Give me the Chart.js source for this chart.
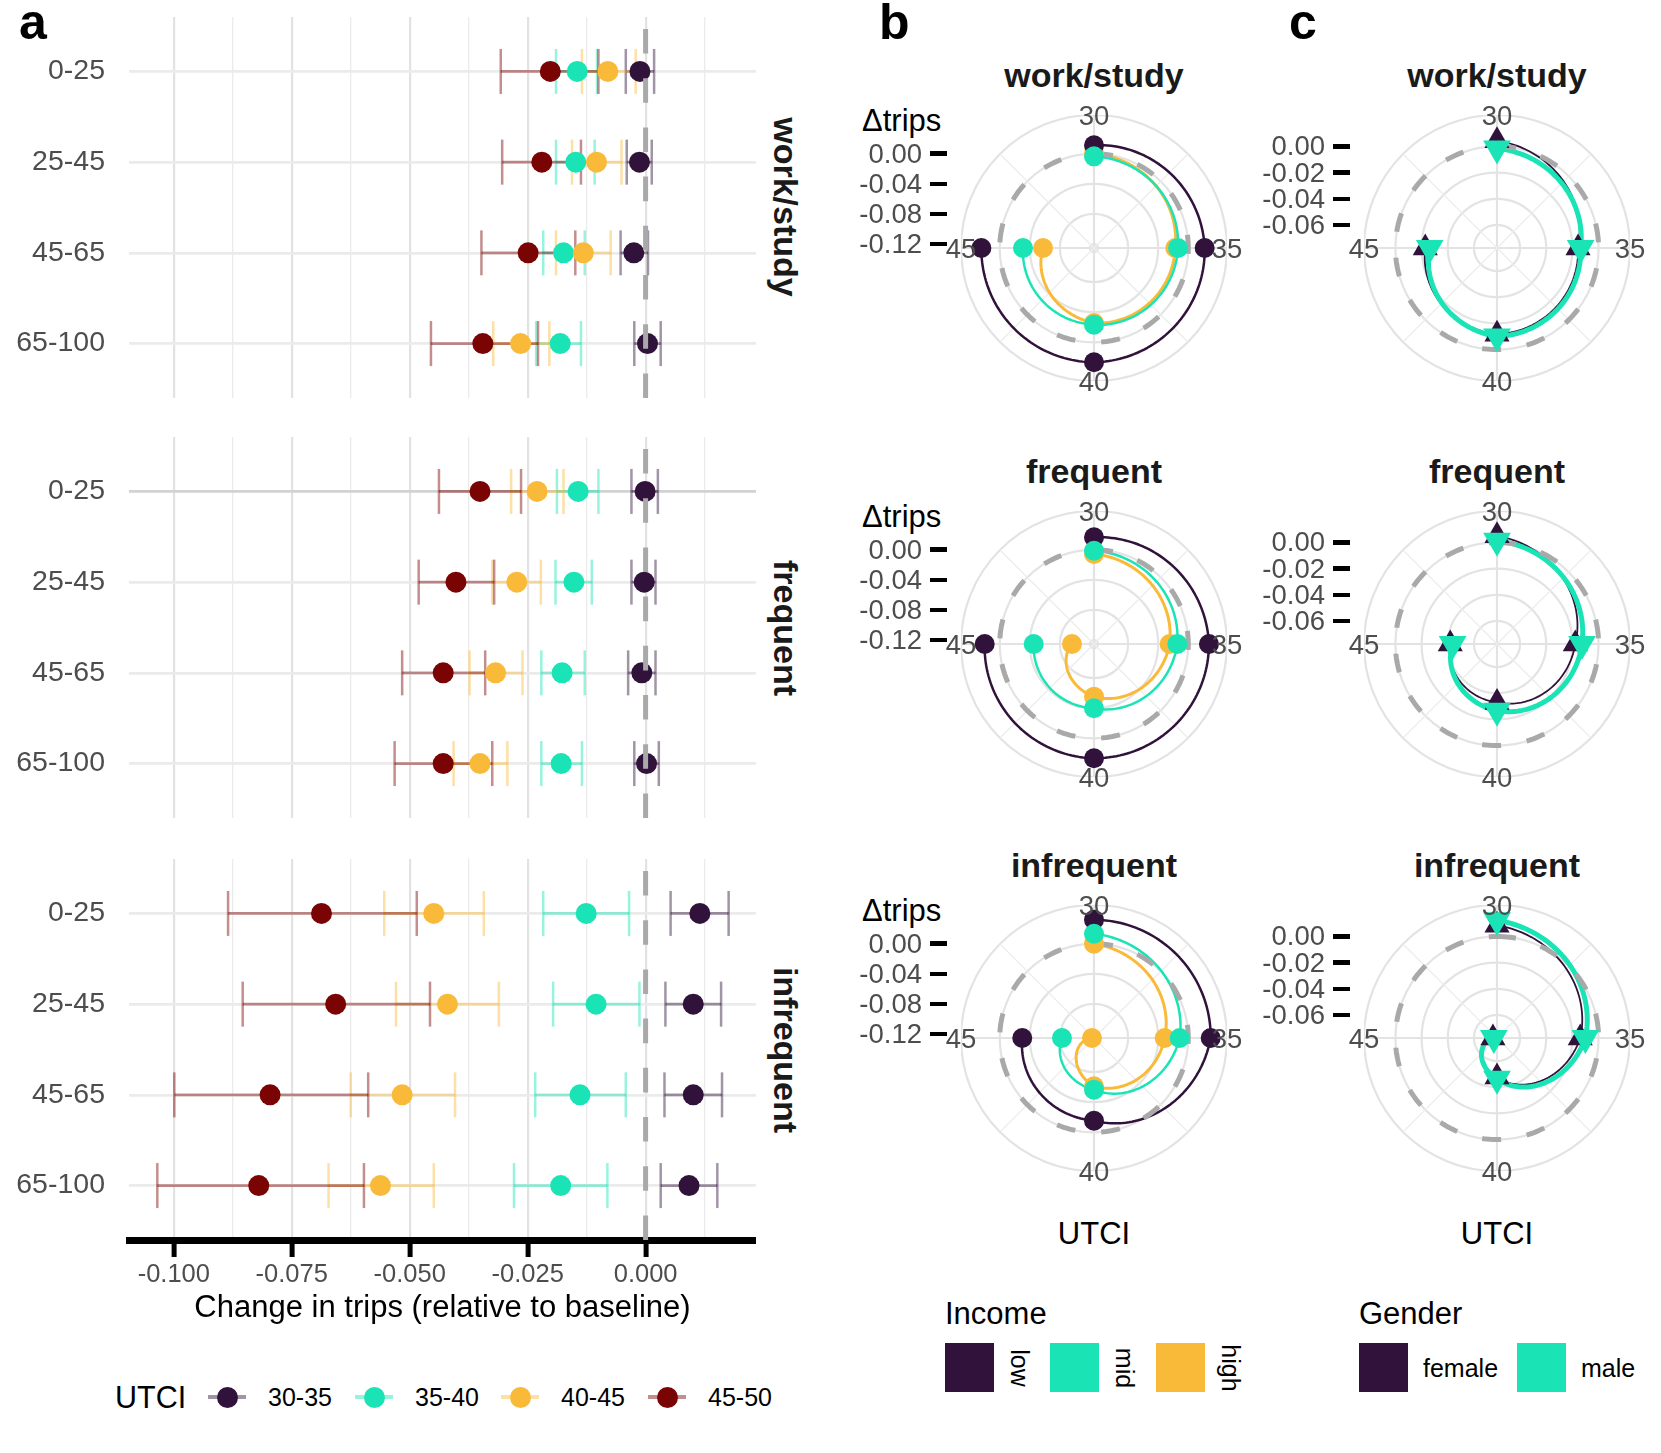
<!DOCTYPE html>
<html>
<head>
<meta charset="utf-8">
<title>Change in trips by UTCI</title>
<script src="https://cdn.jsdelivr.net/npm/chart.js@4.4.1/dist/chart.umd.min.js"></script>
<style>
  body { margin: 0; background: #fff; }
  #fig { position: relative; width: 1661px; height: 1453px; overflow: hidden;
         font-family: "Liberation Sans", Arial, Helvetica, sans-serif; }
  #fig canvas { position: absolute; z-index: 1; }
  .txt { position: absolute; white-space: nowrap; line-height: 1; z-index: 2; }
  .box { position: absolute; z-index: 2; }
</style>
</head>
<body>
<div id="fig"></div>
<script>
// ---------- panel a data : rows are age groups, one array per UTCI bin ----------
const ageGroups = ['0-25', '25-45', '45-65', '65-100'];
const utciBins = ['30-35', '35-40', '40-45', '45-50'];
const utciColors = ['#30123b', '#1ae4b6', '#faba39', '#7a0403'];
const xMajorTicks = [-0.1, -0.075, -0.05, -0.025, 0];
const xMinorTicks = [-0.0875, -0.0625, -0.0375, -0.0125, 0.0125];

const workEst = [[-0.0012, -0.0013, -0.0025, 0.0004], [-0.0145, -0.0148, -0.0174, -0.0181],
                 [-0.0080, -0.0104, -0.0132, -0.0265], [-0.0202, -0.0220, -0.0249, -0.0345]];
const workLo  = [[-0.0042, -0.0040, -0.0053, -0.0024], [-0.0190, -0.0190, -0.0217, -0.0232],
                 [-0.0135, -0.0156, -0.0190, -0.0323], [-0.0307, -0.0304, -0.0348, -0.0455]];
const workHi  = [[0.0018, 0.0013, 0.0005, 0.0032], [-0.0103, -0.0108, -0.0129, -0.0137],
                 [-0.0021, -0.0051, -0.0074, -0.0204], [-0.0100, -0.0137, -0.0149, -0.0228]];

const freqEst = [[-0.0001, -0.0003, -0.0008, 0.0002], [-0.0143, -0.0152, -0.0177, -0.0179],
                 [-0.0230, -0.0273, -0.0318, -0.0351], [-0.0351, -0.0402, -0.0429, -0.0429]];
const freqLo  = [[-0.0030, -0.0030, -0.0037, -0.0024], [-0.0188, -0.0191, -0.0221, -0.0221],
                 [-0.0285, -0.0325, -0.0373, -0.0407], [-0.0438, -0.0481, -0.0516, -0.0532]];
const freqHi  = [[0.0026, 0.0021, 0.0021, 0.0028], [-0.0100, -0.0114, -0.0129, -0.0135],
                 [-0.0174, -0.0222, -0.0261, -0.0293], [-0.0264, -0.0321, -0.0340, -0.0325]];

const infreqEst = [[0.0115, 0.0101, 0.0101, 0.0092], [-0.0126, -0.0105, -0.0139, -0.0180],
                   [-0.0449, -0.0420, -0.0516, -0.0562], [-0.0687, -0.0657, -0.0796, -0.0820]];
const infreqLo  = [[0.0053, 0.0042, 0.0040, 0.0032], [-0.0217, -0.0196, -0.0234, -0.0279],
                   [-0.0554, -0.0529, -0.0625, -0.0672], [-0.0885, -0.0854, -0.0999, -0.1035]];
const infreqHi  = [[0.0176, 0.0160, 0.0162, 0.0152], [-0.0035, -0.0013, -0.0042, -0.0081],
                   [-0.0343, -0.0311, -0.0404, -0.0449], [-0.0485, -0.0457, -0.0588, -0.0597]];

// ---------- panels b and c : delta trips at UTCI 30, 35, 40, 45 ----------
const utciAngles = ['30', '35', '40', '45'];
const incomeLevels = ['low', 'mid', 'high'];
const incomeColors = ['#30123b', '#1ae4b6', '#faba39'];
const incomeTicks = [-0.12, -0.08, -0.04, 0];

const workLow = [0.0112, 0.0218, 0.0266, 0.0244];
const workMid = [-0.0035, -0.0137, -0.0234, -0.0310];
const workHigh = [0.0000, -0.0173, -0.0257, -0.0576];
const freqLow = [0.0165, 0.0275, 0.0266, 0.0200];
const freqMid = [-0.0013, -0.0146, -0.0399, -0.0452];
const freqHigh = [-0.0057, -0.0248, -0.0554, -0.0961];
const infreqLow = [0.0319, 0.0298, -0.0154, -0.0300];
const infreqMid = [0.0133, -0.0114, -0.0567, -0.0828];
const infreqHigh = [0.0000, -0.0314, -0.0611, -0.1227];

const genders = ['female', 'male'];
const genderColors = ['#30123b', '#1ae4b6'];
const genderTicks = [-0.06, -0.04, -0.02, 0];

const workFemale = [0.0044, -0.0157, -0.0118, -0.0228];
const workMale = [-0.0015, -0.0137, -0.0100, -0.0262];
const freqFemale = [0.0050, -0.0178, -0.0330, -0.0419];
const freqMale = [0.0013, -0.0127, -0.0266, -0.0437];
const infreqFemale = [0.0085, -0.0140, -0.0478, -0.0745];
const infreqMale = [0.0123, -0.0101, -0.0465, -0.0752];

// ---------- helpers ----------
const fig = document.getElementById('fig');
Chart.defaults.font.family = '"Liberation Sans", Arial, Helvetica, sans-serif';

function rgba(hex, a) {
    const n = parseInt(hex.slice(1), 16);
    return 'rgba(' + (n >> 16) + ',' + ((n >> 8) & 255) + ',' + (n & 255) + ',' + a + ')';
}

function addCanvas(left, top, w, h) {
    const c = document.createElement('canvas');
    c.width = w; c.height = h;
    c.style.left = left + 'px'; c.style.top = top + 'px';
    c.style.width = w + 'px'; c.style.height = h + 'px';
    fig.appendChild(c);
    return c;
}

function addText(str, x, y, o) {
    o = o || {};
    const d = document.createElement('div');
    d.className = 'txt';
    d.textContent = str;
    d.style.fontSize = (o.size || 25) + 'px';
    d.style.color = o.color || '#000';
    if (o.bold) d.style.fontWeight = 'bold';
    if (o.vertical) d.style.writingMode = 'vertical-rl';
    const anchor = o.anchor || 'center';
    if (anchor === 'center') {
        d.style.left = x + 'px';
        d.style.transform = 'translate(-50%,-50%)';
    } else if (anchor === 'left') {
        d.style.left = x + 'px';
        d.style.transform = 'translateY(-50%)';
    } else {
        d.style.right = (1661 - x) + 'px';
        d.style.transform = 'translateY(-50%)';
    }
    d.style.top = y + 'px';
    fig.appendChild(d);
    return d;
}

function addBox(x, y, w, h, color, round) {
    const d = document.createElement('div');
    d.className = 'box';
    d.style.left = x + 'px'; d.style.top = y + 'px';
    d.style.width = w + 'px'; d.style.height = h + 'px';
    d.style.background = color;
    if (round) d.style.borderRadius = '50%';
    fig.appendChild(d);
}

const isMajor = v => xMajorTicks.some(m => Math.abs(m - v) < 1e-9);

// ---------- panel a : one chart per trip-purpose facet ----------
function facetChart(top, est, lo, hi, showAxis, firstRowColor) {
    const height = showAxis ? 468 : 381;
    const canvas = addCanvas(0, top, 756, height);
    const datasets = [{
        type: 'line',
        data: [{x: 0, y: 3.6}, {x: 0, y: -0.6}],
        borderColor: '#a9a9a9', borderWidth: 5, borderDash: [24.6, 24.6],
        pointRadius: 0, order: 0
    }];
    utciBins.forEach((bin, g) => {
        datasets.push({
            type: 'scatter', label: bin,
            data: est[g].map((v, r) => ({x: v, y: r})),
            pointRadius: 10.5, pointBackgroundColor: utciColors[g], pointBorderWidth: 0,
            order: 4 - g
        });
        const bars = [];
        lo[g].forEach((l, r) => {
            bars.push({x: l, y: r}, {x: hi[g][r], y: r}, {x: null, y: null});
        });
        datasets.push({
            type: 'line', data: bars, spanGaps: false,
            borderColor: rgba(utciColors[g], 0.45), borderWidth: 2.7,
            pointStyle: 'line', pointRotation: 90, pointRadius: 22.5,
            pointBorderColor: rgba(utciColors[g], 0.45), pointBorderWidth: 2.5,
            order: 14 - g
        });
    });

    new Chart(canvas, {
        type: 'scatter',
        data: {datasets: datasets},
        options: {
            responsive: false, animation: false, events: [],
            layout: {padding: 0, autoPadding: false},
            plugins: {legend: {display: false}, tooltip: {enabled: false}},
            scales: {
                x: {
                    type: 'linear', min: -0.1095, max: 0.0234,
                    afterBuildTicks: s => { s.ticks = xMajorTicks.concat(xMinorTicks).sort((a, b) => a - b).map(v => ({value: v})); },
                    afterFit: s => { s.height = showAxis ? 87 : 0; s.paddingLeft = 0; s.paddingRight = 0; },
                    grid: {
                        color: c => isMajor(c.tick.value) ? '#e2e2e2' : '#ebebeb',
                        lineWidth: c => isMajor(c.tick.value) ? 2.2 : 1.3,
                        drawTicks: showAxis, tickLength: 17, tickWidth: 5,
                        tickColor: c => isMajor(c.tick.value) ? '#000' : 'rgba(0,0,0,0)'
                    },
                    border: {display: showAxis, color: '#000', width: 7},
                    ticks: {
                        display: showAxis, autoSkip: false, maxRotation: 0, padding: 3,
                        color: '#4d4d4d', font: {size: 25.5},
                        callback: v => isMajor(v) ? v.toFixed(3) : ''
                    },
                    title: {
                        display: showAxis, text: 'Change in trips (relative to baseline)',
                        color: '#000', font: {size: 31}, padding: 0
                    }
                },
                y: {
                    type: 'linear', reverse: true, min: -0.6, max: 3.6,
                    afterBuildTicks: s => { s.ticks = ageGroups.map((a, i) => ({value: i})); },
                    afterFit: s => { s.width = 129; s.paddingTop = 0; s.paddingBottom = 0; },
                    grid: {
                        color: c => (c.index === 0 && firstRowColor) ? firstRowColor : '#ebebeb',
                        lineWidth: 2.7, drawTicks: false
                    },
                    border: {display: false},
                    ticks: {
                        color: '#4d4d4d', font: {size: 28.5}, padding: 24,
                        callback: v => ageGroups[v]
                    }
                }
            }
        }
    });
}

facetChart(16.5, workEst, workLo, workHi, false, null);
facetChart(437, freqEst, freqLo, freqHi, false, '#d2d2d2');
facetChart(859, infreqEst, infreqLo, infreqHi, true, null);

['work/study', 'frequent', 'infrequent'].forEach((name, i) => {
    addText(name, 786, [207, 627.5, 1049.5][i], {size: 34, bold: true, color: '#1a1a1a', vertical: true});
});

// legend of panel a
addText('UTCI', 115, 1397, {size: 30.5, anchor: 'left'});
[227, 374, 520, 667].forEach((cx, g) => {
    addBox(cx - 19, 1395, 38, 4, rgba(utciColors[g], 0.45));
    addBox(cx - 10.5, 1386.5, 21, 21, utciColors[g], true);
    addText(utciBins[g], cx + 41, 1397, {size: 25, anchor: 'left'});
});

// ---------- panels b and c : polar charts ----------
const minorSpokes = {
    id: 'minorSpokes',
    beforeDatasetsDraw(chart) {
        const s = chart.scales.r;
        const ctx = chart.ctx;
        ctx.save();
        ctx.strokeStyle = '#ececec';
        ctx.lineWidth = 1.2;
        for (let i = 0; i < chart.data.labels.length; i++) {
            const p = s.getPointPosition(i + 0.5, s.drawingArea);
            ctx.beginPath();
            ctx.moveTo(s.xCenter, s.yCenter);
            ctx.lineTo(p.x, p.y);
            ctx.stroke();
        }
        ctx.restore();
    }
};

// lines in polar coordinates: angle and radius change together between
// neighbouring categories, both mapped through the radial scale
const polarPaths = {
    id: 'polarPaths',
    beforeDatasetDraw(chart, args) {
        const ds = chart.data.datasets[args.index];
        if (!ds.polarPath) return;
        const s = chart.scales.r;
        const ctx = chart.ctx;
        const vals = ds.data;
        const n = vals.length;
        const segs = ds.polarPath.closed ? n : n - 1;
        ctx.save();
        ctx.strokeStyle = ds.polarPath.color;
        ctx.lineWidth = ds.polarPath.width;
        ctx.lineJoin = 'round';
        ctx.lineCap = ds.polarPath.dash ? 'butt' : 'round';
        if (ds.polarPath.dash) ctx.setLineDash(ds.polarPath.dash);
        ctx.beginPath();
        for (let i = 0; i < segs; i++) {
            const v0 = vals[i], v1 = vals[(i + 1) % n];
            for (let k = 0; k <= 48; k++) {
                const t = k / 48;
                const p = s.getPointPosition(i + t, s.getDistanceFromCenterForValue(v0 + (v1 - v0) * t));
                if (i === 0 && k === 0) ctx.moveTo(p.x, p.y);
                else ctx.lineTo(p.x, p.y);
            }
        }
        ctx.stroke();
        ctx.restore();
    }
};

function polarChart(cx, cy, title, series, cfg) {
    const R = 133;
    const left = cx - R, top = cy - R;
    const canvas = addCanvas(left, top, 2 * R, 2 * R);
    const datasets = [{
        data: utciAngles.map(() => 0), fill: false, showLine: false, borderWidth: 0, pointRadius: 0,
        polarPath: {color: '#a9a9a9', width: 5, dash: [19, 26], closed: true},
        order: 5
    }];
    series.forEach((vals, k) => {
        const col = cfg.colors[k];
        datasets.push({
            data: vals, fill: false, showLine: false, borderWidth: 0, pointRadius: 0,
            polarPath: {color: col, width: cfg.widths[k], closed: false},
            order: 10 + cfg.rank[k]
        });
        datasets.push({
            data: vals, fill: false, showLine: false, borderWidth: 0,
            pointRadius: cfg.radius[k], pointStyle: cfg.style, pointRotation: cfg.rotation[k],
            pointBackgroundColor: col, pointBorderColor: col, pointBorderWidth: 0,
            order: cfg.rank[k]
        });
    });

    const chart = new Chart(canvas, {
        type: 'radar',
        data: {labels: utciAngles, datasets: datasets},
        options: {
            responsive: false, animation: false, events: [],
            layout: {padding: 0, autoPadding: false},
            plugins: {legend: {display: false}, tooltip: {enabled: false}},
            scales: {
                r: {
                    min: cfg.min, max: cfg.max, startAngle: 0,
                    afterBuildTicks: s => { s.ticks = cfg.ticks.concat([cfg.max]).map(v => ({value: v})); },
                    ticks: {display: false},
                    pointLabels: {display: false},
                    angleLines: {color: '#e3e3e3', lineWidth: 2.2},
                    grid: {circular: true, color: '#e3e3e3', lineWidth: 2.2}
                }
            }
        },
        plugins: [minorSpokes, polarPaths]
    });

    const s = chart.scales.r;
    addText(title, cx, cy - 173, {size: 34, bold: true, color: '#1a1a1a'});
    utciAngles.forEach((lab, i) => {
        const p = s.getPointPosition(i, s.drawingArea);
        addText(lab, left + p.x, top + p.y + 1, {size: 27.5, color: '#4d4d4d'});
    });
    cfg.ticks.forEach(v => {
        const y = top + s.yCenter - s.getDistanceFromCenterForValue(v);
        addText(v.toFixed(2), cx - 172, y, {size: 27.5, color: '#4d4d4d', anchor: 'right'});
        addBox(cx - 164, y - 2.25, 17, 4.5, '#000');
    });
    if (cfg.axisTitle) addText(cfg.axisTitle, cx - 232, cy - 128, {size: 31, anchor: 'left'});
}

const rowCenters = [248, 644, 1038];
const purposeTitles = ['work/study', 'frequent', 'infrequent'];

const incomeCfg = {
    colors: incomeColors, widths: [2.5, 2.5, 3], rank: [2, 1, 3],
    radius: [10, 10, 10], style: 'circle', rotation: [0, 0, 0],
    min: -0.1254, max: 0.0515, ticks: incomeTicks, axisTitle: '\u0394trips'
};
const genderCfg = {
    colors: genderColors, widths: [1.8, 5], rank: [2, 1],
    radius: [14.5, 16], style: 'triangle', rotation: [0, 180],
    min: -0.0776, max: 0.0240, ticks: genderTicks, axisTitle: null
};

const incomeSeries = [[workLow, workMid, workHigh], [freqLow, freqMid, freqHigh], [infreqLow, infreqMid, infreqHigh]];
const genderSeries = [[workFemale, workMale], [freqFemale, freqMale], [infreqFemale, infreqMale]];

rowCenters.forEach((cy, i) => {
    polarChart(1094, cy, purposeTitles[i], incomeSeries[i], incomeCfg);
    polarChart(1497, cy, purposeTitles[i], genderSeries[i], genderCfg);
});

addText('UTCI', 1094, 1233, {size: 31});
addText('UTCI', 1497, 1233, {size: 31});

// legends of panels b and c
addText('Income', 945, 1313, {size: 31, anchor: 'left'});
incomeLevels.forEach((lev, k) => {
    const x = [945, 1050, 1156][k];
    addBox(x, 1343, 49, 49, incomeColors[k]);
    addText(lev, x + 74, 1368, {size: 25, vertical: true});
});
addText('Gender', 1359, 1313, {size: 31, anchor: 'left'});
genders.forEach((g, k) => {
    const x = [1359, 1517][k];
    addBox(x, 1343, 49, 49, genderColors[k]);
    addText(g, x + 64, 1368, {size: 25, anchor: 'left'});
});

// panel letters
addText('a', 19, 22, {size: 50, bold: true, anchor: 'left'});
addText('b', 879, 22, {size: 50, bold: true, anchor: 'left'});
addText('c', 1289, 22, {size: 50, bold: true, anchor: 'left'});
</script>
</body>
</html>
